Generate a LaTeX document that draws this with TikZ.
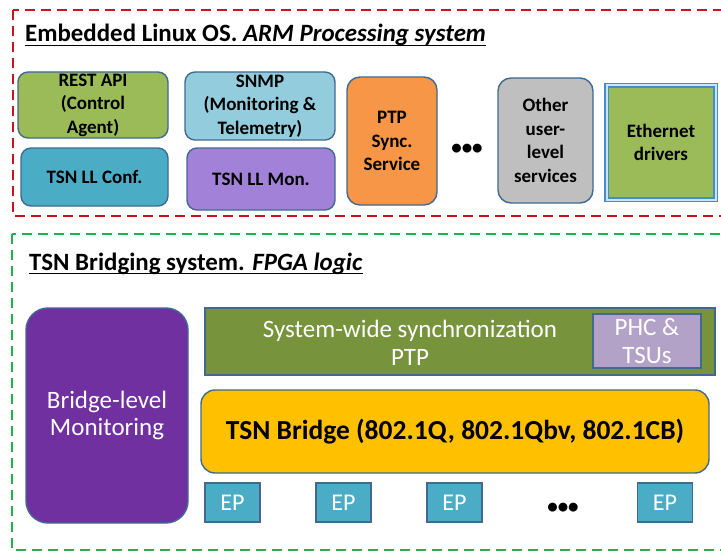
\documentclass[tikz,border=0pt]{standalone}
\usepackage{fontspec}
\setmainfont{Carlito}
\definecolor{frameRed}{RGB}{200,20,30}
\definecolor{frameGreen}{RGB}{30,178,80}
\definecolor{edgeBlue}{RGB}{65,105,145}
\definecolor{oliveFill}{RGB}{155,187,89}
\definecolor{tealFill}{RGB}{75,172,198}
\definecolor{skyFill}{RGB}{147,205,221}
\definecolor{lilacFill}{RGB}{162,130,216}
\definecolor{orangeFill}{RGB}{247,150,70}
\definecolor{greyFill}{RGB}{191,191,191}
\definecolor{plumFill}{RGB}{112,48,160}
\definecolor{mossFill}{RGB}{119,147,60}
\definecolor{mauveFill}{RGB}{179,162,199}
\definecolor{amberFill}{RGB}{255,192,0}
\definecolor{ethBlue}{RGB}{70,140,205}
\definecolor{ethGap}{RGB}{200,230,245}
\tikzset{
  blk/.style={draw=edgeBlue, line width=1.4pt, inner sep=0pt, align=center,
    font=\fontsize{19}{23.5}\selectfont\bfseries, text=black},
  soft/.style={blk, rounded corners=10pt},
  whitetxt/.style={text=white, font=\fontsize{25}{28}\selectfont},
  frame/.style={line width=2.6pt, dash pattern=on 10pt off 6pt},
  heading/.style={anchor=base west, inner sep=0pt, font=\fontsize{24.9}{28}\selectfont\bfseries},
  ellipsis/.style={inner sep=0pt, font=\fontsize{21}{21}\selectfont\bfseries},
  ep/.style={blk, fill=tealFill, minimum width=55pt, minimum height=39pt,
    text=white, font=\fontsize{24}{28}\selectfont}
}
\begin{document}
\begin{tikzpicture}[x=1pt, y=-1pt]
\useasboundingbox (0,0) rectangle (721,551);

% ---- ARM processing system ----
\draw[frame, draw=frameRed] (13,10) rectangle (730,216);
\node[heading] (ostitle) at (25,42) {Embedded Linux OS. \textit{ARM Processing system}};
\draw[line width=1.4pt] ([yshift=-3.5pt]ostitle.base west) -- ([yshift=-3.5pt]ostitle.base east);

\node[soft, fill=oliveFill, minimum width=150pt, minimum height=66pt] (rest) at (93,105)
  {REST API\\(Control\\Agent)};
\node[soft, fill=tealFill, minimum width=147pt, minimum height=58pt] (llconf) at (94.5,177)
  {TSN LL Conf.};
\node[soft, fill=skyFill, minimum width=150pt, minimum height=68pt] (snmp) at (260,106)
  {SNMP\\(Monitoring \&\\Telemetry)};
\node[soft, fill=lilacFill, minimum width=148pt, minimum height=62pt] (llmon) at (261,179)
  {TSN LL Mon.};
\node[soft, rounded corners=13pt, fill=orangeFill, minimum width=90pt, minimum height=128pt] (ptp) at (392,141)
  {PTP\\Sync.\\Service};
\node[ellipsis] (dotsos) at (467,149) {•••};
\node[soft, rounded corners=13pt, fill=greyFill, minimum width=95pt, minimum height=125pt] (other) at (545.5,140.5)
  {Other\\user-\\level\\services};
\node[blk, draw=ethBlue, fill=oliveFill, double=ethGap, double distance=2pt, line width=1.3pt,
  minimum width=109pt, minimum height=114pt] (eth) at (661,142.5)
  {Ethernet\\drivers};

% ---- FPGA bridging system ----
\draw[frame, draw=frameGreen] (12,234) rectangle (730,550);
\node[heading] (fpgatitle) at (29,270) {TSN Bridging system. \textit{FPGA logic}};
\draw[line width=1.4pt] ([yshift=-3.5pt]fpgatitle.base west) -- ([yshift=-3.5pt]fpgatitle.base east);

\node[blk, rounded corners=22pt, fill=plumFill, minimum width=162pt, minimum height=215pt,
  whitetxt, font=\fontsize{25}{27}\selectfont] (bmon) at (107,415.5)
  {Bridge-level\\Monitoring};
\node[blk, fill=mossFill, minimum width=510pt, minimum height=67pt] (sync) at (460,341.5) {};
\node[whitetxt, align=center, inner sep=0pt] (synctext) at (410,343)
  {System-wide synchronization\\PTP};
\node[blk, fill=mauveFill, minimum width=108pt, minimum height=54pt, whitetxt] (phc) at (647,341)
  {PHC \&\\TSUs};
\node[blk, rounded corners=14pt, fill=amberFill, minimum width=508pt, minimum height=83pt,
  font=\fontsize{27.5}{30}\selectfont\bfseries] (bridge) at (455,431.5)
  {TSN Bridge (802.1Q, 802.1Qbv, 802.1CB)};

\node[ep] (ep1) at (232.5,502.5) {EP};
\node[ep] (ep2) at (343.5,502.5) {EP};
\node[ep] (ep3) at (454.5,502.5) {EP};
\node[ellipsis] (dotsep) at (563,508) {•••};
\node[ep] (ep4) at (665,502.5) {EP};
\end{tikzpicture}
\end{document}
